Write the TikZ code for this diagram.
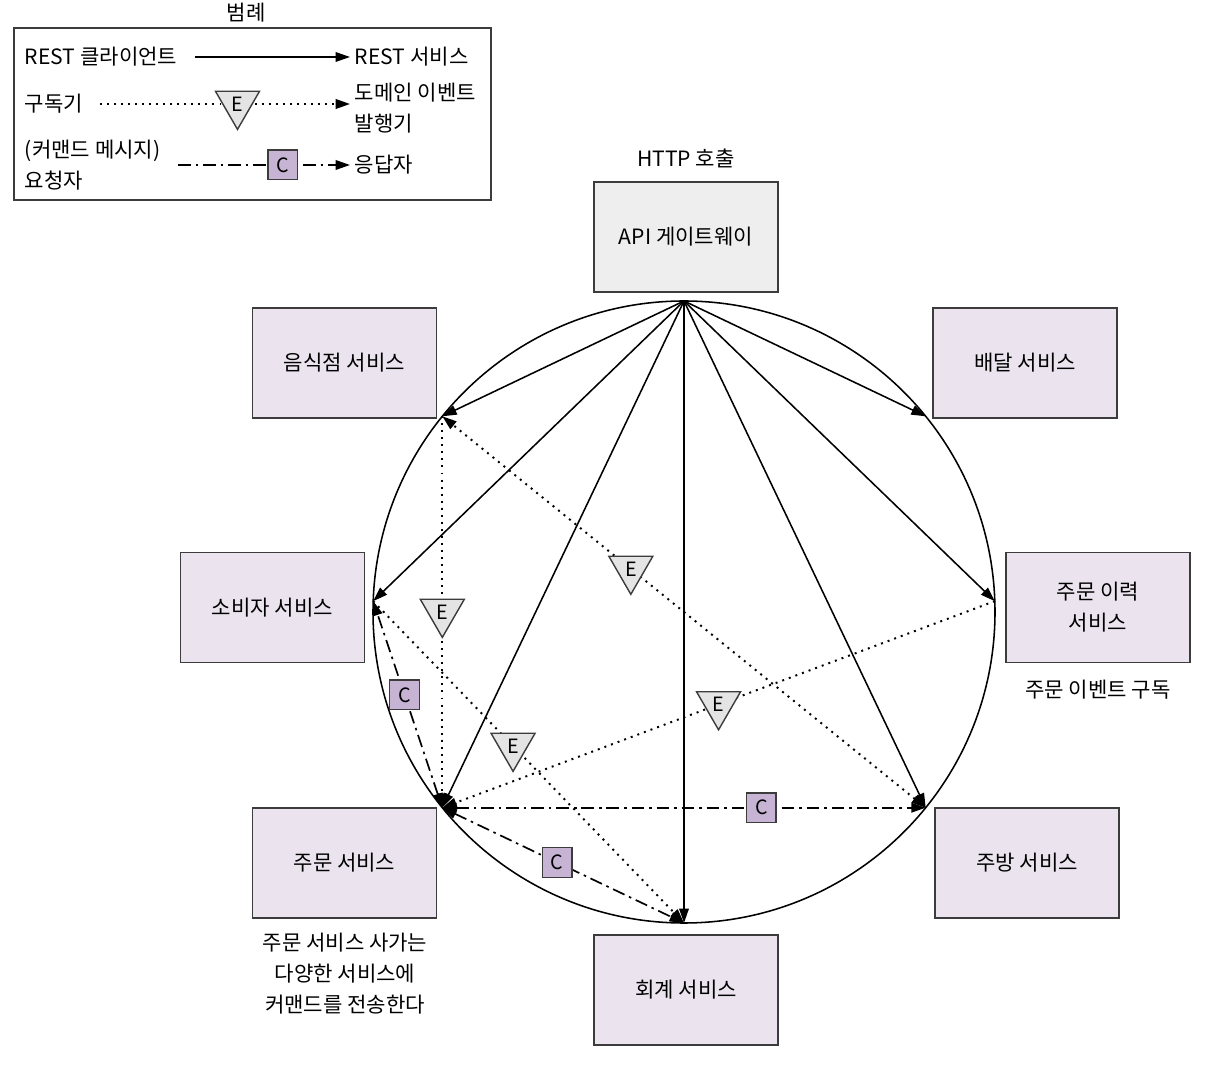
\documentclass[tikz,border=0pt]{standalone}
\usepackage{fontspec}
\setmainfont{Noto Sans CJK KR}
\usepackage{tikz}
\usetikzlibrary{positioning, calc, arrows.meta, shapes.geometric}

\definecolor{svcfill}{RGB}{235,228,239}
\definecolor{gwfill}{RGB}{238,238,238}
\definecolor{cmdfill}{RGB}{199,180,212}
\definecolor{evtfill}{RGB}{228,228,228}
\definecolor{edge}{RGB}{60,60,60}

\tikzset{
  svcbox/.style={draw=edge, line width=1.1pt, fill=svcfill, minimum width=4.6cm, minimum height=2.75cm, align=center, inner sep=0pt},
  evt/.style={solid, regular polygon, regular polygon sides=3, shape border rotate=180, draw=edge, line width=1pt, fill=evtfill, minimum size=1.27cm, inner sep=0pt, font=\fontsize{14}{14}\selectfont},
  cmd/.style={solid, draw=edge, line width=1pt, fill=cmdfill, minimum size=0.74cm, inner sep=0pt, font=\fontsize{14}{14}\selectfont},
  rest/.style={line width=1.1pt, ->},
  event/.style={line width=1.4pt, dash pattern=on 1.4pt off 3.6pt},
  command/.style={line width=1.2pt, dash pattern=on 9pt off 3.5pt on 1.8pt off 3.5pt},
}

\begin{document}
\begin{tikzpicture}[x=0.025cm, y=0.025cm, font=\fontsize{15}{22}\selectfont, >={Triangle[length=3.6mm, width=2.4mm]}]
    \useasboundingbox (0,0) rectangle (1210,1066);

    % Legend
    \node (lgtitle) at (246,1053) {범례};
    \draw[edge, line width=1.1pt] (14,866) rectangle (491,1038);
    \node[anchor=west] (lgrc) at (20,1009) {REST 클라이언트};
    \node[anchor=west] (lgrs) at (350,1009) {REST 서비스};
    \node[anchor=west] (lgsub) at (20,962) {구독기};
    \node[anchor=west, align=left] (lgpub) at (350,958) {도메인 이벤트\\발행기};
    \node[anchor=west, align=left] (lgreq) at (20,901) {(커맨드 메시지)\\요청자};
    \node[anchor=west] (lgrep) at (350,901) {응답자};
    \coordinate (lgA) at (195,1009);
    \coordinate (lgB) at (100,962);
    \coordinate (lgC) at (178,901);
    \draw[rest] (lgA) -- (lgrs.west);
    \draw[event, ->] (lgB) -- node[evt, pos=0.55] {E} (lgpub.west |- lgB);
    \draw[command, ->] (lgC) -- node[cmd, pos=0.61] {C} (lgrep.west);

    % Services
    \node[svcbox, fill=gwfill] (gw) at (686,829) {API 게이트웨이};
    \node (http) at (686,908) {HTTP 호출};
    \foreach \n/\x/\y/\t in {rsvc/344.5/703/음식점 서비스, dsvc/1025/703/배달 서비스, csvc/272.5/458.5/소비자 서비스, hsvc/1098/458.5/{주문 이력\\서비스}, osvc/344.5/203/주문 서비스, ksvc/1027/203/주방 서비스, asvc/686/76/회계 서비스} {
      \node[svcbox] (\n) at (\x,\y) {\t};
    }
    \node (hsub) at (1098,376) {주문 이벤트 구독};
    \node[align=center] (saga) at (345,92) {주문 서비스 사가는\\다양한 서비스에\\커맨드를 전송한다};

    % Circle and its points
    \coordinate (ctr) at (684,454);
    \draw[line width=1.1pt] (ctr) circle (311);
    \foreach \n/\a in {pTop/90, pRest/141, pDel/39, pCons/178, pHist/2, pOrd/219, pKit/-39, pAcc/-90} {
      \coordinate (\n) at ($(ctr)+(\a:311)$);
    }

    % REST calls from the gateway
    \foreach \t in {pRest, pDel, pCons, pHist, pOrd, pKit, pAcc} {
      \draw[rest] (pTop) -- (\t);
    }

    % Domain events
    \draw[event, ->] (pRest) -- node[evt, pos=0.5] {E} (pOrd);
    \draw[event, <->] (pKit) -- node[evt, pos=0.61] {E} (pRest);
    \draw[event, ->] (pCons) -- node[evt, pos=0.45] {E} (pAcc);
    \draw[event, ->] (pHist) -- node[evt, pos=0.5] {E} (pOrd);

    % Commands
    \draw[command, <->] (pOrd) -- node[cmd, pos=0.66] {C} (pKit);
    \draw[command, <->] (pOrd) -- node[cmd, pos=0.475] {C} (pAcc);
    \draw[command, <->] (pOrd) -- node[cmd, pos=0.546] {C} (pCons);

  \end{tikzpicture}
\end{document}
